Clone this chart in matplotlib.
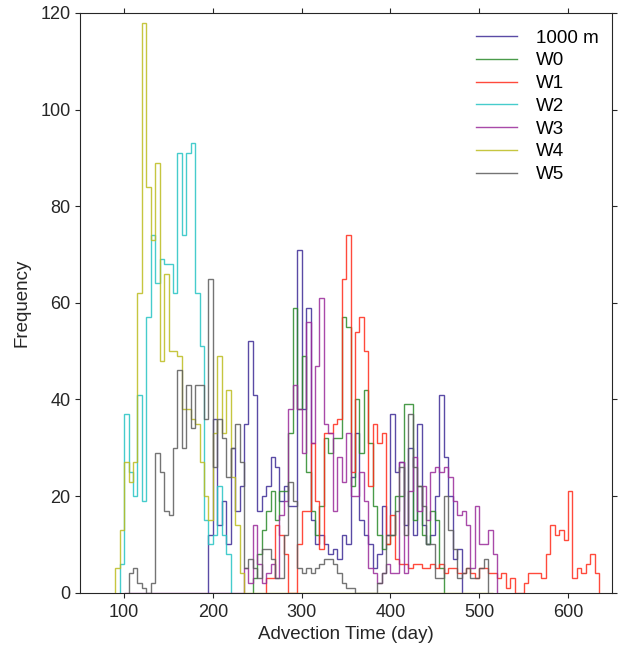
import numpy as np
import matplotlib.pyplot as plt
from matplotlib.lines import Line2D

plt.rcParams['font.family'] = ['Liberation Sans', 'DejaVu Sans']

bin_width = 5  # days

# first bin edge (day) and counts per bin for every release depth
start_1000m = 195
counts_1000m = [12, 36, 14, 19, 10, 30, 17, 22, 35, 52, 41, 17, 20, 22, 28, 26, 19, 22, 18, 18,
                71, 38, 59, 15, 10, 12, 10, 8, 9, 7, 12, 10, 24, 33, 15, 12, 10, 5, 8, 18,
                12, 37, 25, 27, 14, 30, 12, 35, 14, 10, 12, 20, 41, 28, 20, 7, 9]

start_w0 = 245
counts_w0 = [3, 8, 13, 17, 21, 15, 21, 21, 33, 59, 38, 49, 25, 17, 12, 18, 32, 29, 32, 32,
             57, 55, 22, 40, 29, 42, 31, 18, 12, 9, 10, 12, 20, 20, 39, 39, 15, 22, 12, 10,
             17, 15, 5]

start_w1 = 260
counts_w1 = [3, 3, 14, 12, 8, 0, 0, 10, 17, 17, 31, 19, 9, 33, 33, 35, 36, 65, 74, 25,
             54, 57, 50, 22, 35, 31, 33, 10, 16, 7, 6, 6, 5, 6, 6, 5, 5, 6, 5, 6,
             4, 5, 5, 4, 4, 5, 4, 3, 5, 5, 4, 4, 3, 4, 1, 3, 0, 0, 2, 4,
             4, 4, 3, 8, 14, 12, 13, 11, 21, 3, 5, 4, 6, 8, 4]

start_w2 = 95
counts_w2 = [6, 37, 25, 20, 41, 19, 57, 74, 64, 69, 68, 68, 62, 91, 74, 91, 93, 62, 51, 15,
             10, 12, 22, 12, 8]

start_w3 = 100
counts_w3 = [0] * 27 + [
             5, 2, 14, 6, 2, 4, 6, 3, 16, 19, 38, 43, 38, 29, 56, 31, 47, 61, 35, 33,
             17, 28, 23, 33, 20, 20, 25, 19, 5, 4, 2, 4, 6, 4, 4, 27, 4, 21, 28, 17,
             22, 15, 25, 26, 25, 26, 24, 19, 16, 17, 14, 5, 18, 10, 10, 13, 8]

start_w4 = 90
counts_w4 = [5, 13, 27, 23, 27, 62, 118, 84, 73, 89, 48, 66, 50, 50, 49, 38, 38, 36, 35, 27,
             20, 15, 33, 49, 33, 42, 24, 14, 4] + [0] * 56

start_w5 = 105
counts_w5 = [4, 5, 2, 1, 0, 2, 29, 25, 17, 16, 30, 46, 30, 43, 34, 43, 43, 36, 65, 26,
             36, 32, 24, 30, 35, 27, 5, 7, 5, 3, 9, 9, 7, 3, 3, 12, 23, 19, 5, 4,
             5, 4, 5, 6, 7, 7, 6, 4, 2, 1, 1, 0, 0, 0, 0, 0, 2, 4, 12, 12,
             17, 26, 12, 37, 26, 22, 18, 10, 10, 3, 3, 20, 13, 9, 3, 4, 5, 3, 3, 5, 7]

labels = ['1000 m', 'W0', 'W1', 'W2', 'W3', 'W4', 'W5']
colors = ['#3d2b96', '#2a8a2a', '#ff2a1a', '#26c4c4', '#9a2a9a', '#bcbc1e', '#5c5c5c']
starts = [start_1000m, start_w0, start_w1, start_w2, start_w3, start_w4, start_w5]
counts = [counts_1000m, counts_w0, counts_w1, counts_w2, counts_w3, counts_w4, counts_w5]

fig = plt.figure(figsize=(6.18, 6.47), dpi=100)
ax = fig.add_axes([0.129, 0.084, 0.862, 0.896])

for start, cnt, col in zip(starts, counts, colors):
    cnt = np.asarray(cnt, dtype=float)
    edges = start + bin_width * np.arange(len(cnt) + 1)
    ax.stairs(cnt, edges, baseline=0, color=col, lw=1.0, alpha=0.85)

ax.set_xlim(50, 650)
ax.set_ylim(0, 120)
ax.set_xticks([100, 200, 300, 400, 500, 600])
ax.set_yticks(np.arange(0, 121, 20))
ax.tick_params(direction='out', top=True, right=True, length=3.5, width=0.8,
               pad=3, labelsize=13, colors='#262626')
ax.tick_params(axis='x', pad=5)
for sp in ax.spines.values():
    sp.set_color('#262626')
    sp.set_linewidth(0.8)

ax.set_xlabel('Advection Time (day)', fontsize=13.5, color='#262626', labelpad=3)
ax.set_ylabel('Frequency', fontsize=13.5, color='#262626', labelpad=7)

handles = [Line2D([], [], color=c, lw=1.0, alpha=0.85) for c in colors]
ax.legend(handles, labels, loc='upper right', bbox_to_anchor=(1.0, 0.995),
          frameon=False, fontsize=13.5, handlelength=2.2, handletextpad=1.0,
          labelspacing=0.3, borderaxespad=0.33)

fig.savefig('out.png', dpi=100)
